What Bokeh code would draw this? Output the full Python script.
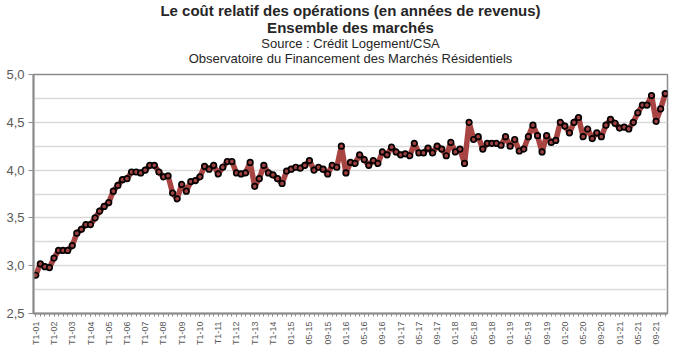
import math
from bokeh.plotting import figure
from bokeh.models import Title, FixedTicker, ColumnDataSource, Range1d
from bokeh.embed import file_html
from bokeh.resources import INLINE

title_lines = [
    ("Le coût relatif des opérations (en années de revenus)", "bold"),
    ("Ensemble des marchés", "bold"),
    ("Source : Crédit Logement/CSA", "normal"),
    ("Observatoire du Financement des Marchés Résidentiels", "normal"),
]

# Quarterly 2001-2014, then monthly Jan 2015 - Nov 2021
quarter_labels = [f"T{q}-{y:02d}" for y in range(1, 15) for q in range(1, 5)]
month_labels = [f"{m:02d}-{y:02d}" for y in range(15, 22) for m in range(1, 13)][:83]
categories = quarter_labels + month_labels

values = [
    2.90, 3.02, 2.99, 2.98, 3.08, 3.16, 3.16, 3.16, 3.21, 3.34,
    3.38, 3.43, 3.43, 3.50, 3.57, 3.62, 3.66, 3.78, 3.84, 3.90,
    3.91, 3.98, 3.98, 3.97, 4.00, 4.05, 4.05, 3.98, 3.93, 3.94,
    3.76, 3.70, 3.85, 3.78, 3.88, 3.89, 3.93, 4.04, 4.01, 4.05,
    3.96, 4.03, 4.09, 4.09, 3.97, 3.96, 3.97, 4.08, 3.83, 3.91,
    4.05, 3.97, 3.95, 3.91, 3.86, 3.99, 4.01, 4.03, 4.02, 4.05,
    4.10, 4.00, 4.03, 4.01, 3.96, 4.05, 4.03, 4.25, 3.97, 4.08,
    4.07, 4.16, 4.11, 4.05, 4.10, 4.07, 4.19, 4.16, 4.24, 4.19,
    4.16, 4.17, 4.15, 4.28, 4.18, 4.18, 4.23, 4.18, 4.25, 4.22,
    4.15, 4.29, 4.19, 4.22, 4.07, 4.50, 4.32, 4.35, 4.22, 4.28,
    4.28, 4.28, 4.26, 4.35, 4.25, 4.32, 4.20, 4.22, 4.35, 4.47,
    4.36, 4.19, 4.36, 4.29, 4.31, 4.50, 4.46, 4.39, 4.50, 4.55,
    4.35, 4.43, 4.33, 4.39, 4.35, 4.47, 4.53, 4.49, 4.44, 4.45,
    4.43, 4.50, 4.60, 4.68, 4.68, 4.78, 4.51, 4.64, 4.80,
]

y_ticks = [2.5, 3.0, 3.5, 4.0, 4.5, 5.0]
y_minor = [2.75, 3.25, 3.75, 4.25, 4.75]
y_tick_labels = ["2,5", "3,0", "3,5", "4,0", "4,5", "5,0"]

n = len(values)
xs = list(range(n))
src = ColumnDataSource(data=dict(x=xs, y=values, cat=categories[:n]))

FONT = "Liberation Sans"
AXIS_GRAY = "#8c8c8c"
GRID = "#d9d9d9"

p = figure(width=674, height=355, output_backend="svg", toolbar_location=None,
           x_range=Range1d(-0.5, n - 0.5), y_range=Range1d(2.5, 5.0),
           min_border_left=33, min_border_right=7, min_border_top=0, min_border_bottom=42,
           background_fill_color="white", border_fill_color="white")

# invisible (white) spacer between the plot frame and the title block
p.add_layout(Title(text=".", text_font=FONT, text_font_size="2px", text_color="white",
                   standoff=7, offset=0), "above")

title_sizes = {"bold": "15px", "normal": "13px"}
for text, style in reversed(title_lines):
    p.add_layout(Title(text=text, align="center", text_font=FONT, text_font_size=title_sizes[style],
                       text_font_style=style, text_color="#262626", standoff=-2, offset=0), "above")

p.outline_line_color = AXIS_GRAY
p.outline_line_width = 1.5

# y axis
yax = p.yaxis[0]
yax.ticker = FixedTicker(ticks=y_ticks, minor_ticks=y_minor)
yax.major_label_overrides = {t: l for t, l in zip(y_ticks, y_tick_labels)}
yax.major_label_text_font = FONT
yax.major_label_text_font_size = "13px"
yax.major_label_text_color = "#595959"
yax.axis_line_color = AXIS_GRAY
yax.axis_line_width = 2
yax.major_tick_line_color = AXIS_GRAY
yax.major_tick_out = 5
yax.major_tick_in = 0
yax.minor_tick_out = 0
yax.minor_tick_in = 0
yax.major_label_standoff = 4

# x axis
xax = p.xaxis[0]
major_idx = list(range(0, n, 4))
xax.ticker = FixedTicker(ticks=major_idx, minor_ticks=xs)
xax.major_label_overrides = {i: categories[i] for i in major_idx}
xax.major_label_orientation = math.pi / 2
xax.major_label_text_font = FONT
xax.major_label_text_font_size = "9px"
xax.major_label_text_color = "#595959"
xax.axis_line_color = AXIS_GRAY
xax.axis_line_width = 2
xax.major_tick_line_color = AXIS_GRAY
xax.minor_tick_line_color = AXIS_GRAY
xax.major_tick_out = 3
xax.major_tick_in = 0
xax.minor_tick_out = 3
xax.minor_tick_in = 0
xax.major_label_standoff = 5

p.xgrid.grid_line_color = None
p.ygrid.ticker = FixedTicker(ticks=y_ticks, minor_ticks=y_minor)
p.ygrid.grid_line_color = GRID
p.ygrid.grid_line_width = 1.5
p.ygrid.minor_grid_line_color = GRID
p.ygrid.minor_grid_line_width = 1.5

p.line("x", "y", source=src, line_color="#A84442", line_width=5.5)
p.scatter("x", "y", source=src, size=5.5, fill_color="#a04040", line_color="black", line_width=1.7)

open("out.html", "w").write(file_html(p, INLINE))
